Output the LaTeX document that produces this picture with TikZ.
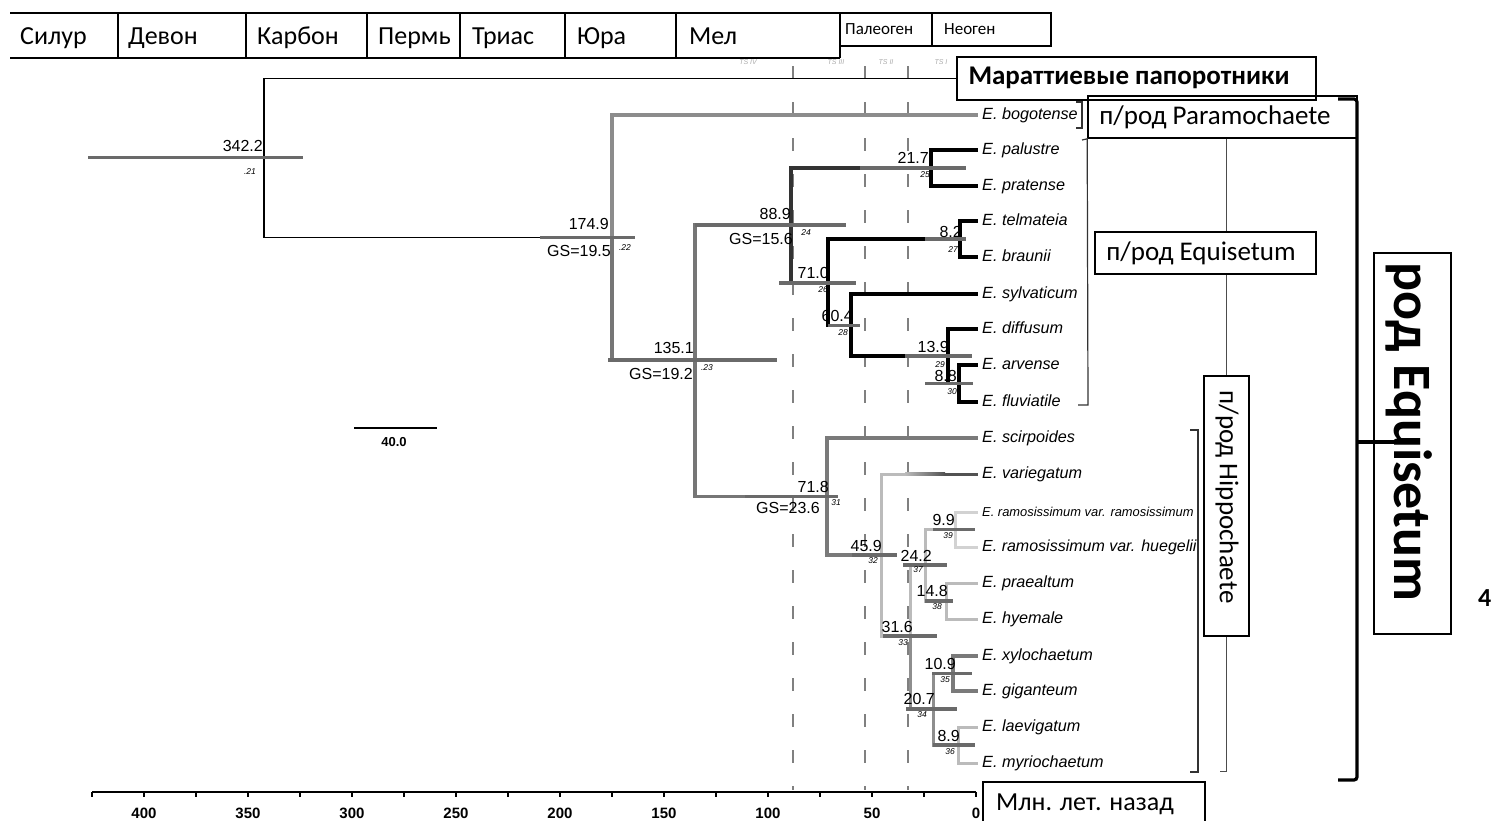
\documentclass[tikz,border=0pt]{standalone}
\usepackage{fontspec}
\setmainfont{Liberation Sans}
\newfontfamily\calfont{Carlito}
\definecolor{barc}{HTML}{6A6A6A}
\definecolor{gbrc}{HTML}{767676}
\definecolor{bogc}{HTML}{8C8C8C}
\definecolor{lgt}{HTML}{BBBBBB}
\definecolor{vlgt}{HTML}{D2D2D2}
\definecolor{midg}{HTML}{8E8E8E}
\definecolor{dkg}{HTML}{7A7A7A}
\definecolor{dashcol}{HTML}{808080}
\definecolor{tsc}{HTML}{AAAAAA}
\begin{document}
\begin{tikzpicture}[x=1pt,y=-1pt,
  every node/.style={inner sep=0pt},
  thinb/.style={line width=1.5pt,draw=black},
  blk/.style={line width=3.2pt,draw=black},
  gry/.style={line width=3.2pt,draw=gbrc},
  hgry/.style={line width=3.2pt,draw=dkg},
  hlgt/.style={line width=3pt,draw=lgt},
  hvlgt/.style={line width=3pt,draw=vlgt},
  hmid/.style={line width=3pt,draw=midg},
  bar/.style={line width=3.4pt,draw=barc},
  dashl/.style={line width=1.4pt,draw=dashcol,dash pattern=on 13pt off 23pt},
  num/.style={font=\fontsize{16}{16}\selectfont, anchor=base east},
  idx/.style={font=\fontsize{8.5}{9}\selectfont\itshape},
  sp/.style={font=\fontsize{16.2}{16}\selectfont\itshape, anchor=west, inner xsep=4pt, text height=11pt, text depth=3pt},
  per/.style={font=\calfont\fontsize{26}{26}\selectfont, anchor=base west},
  sper/.style={font=\calfont\fontsize{17}{17}\selectfont, anchor=base west},
  boxl/.style={draw, line width=1.6pt},
  btxt/.style={font=\calfont\fontsize{27}{27}\selectfont},
  ts/.style={font=\fontsize{7}{7}\selectfont\itshape, text=tsc},
  ax/.style={font=\bfseries\fontsize{15}{15}\selectfont, anchor=base},
  brk/.style={line width=1.2pt, draw=black!80}
]
\useasboundingbox (0,0) rectangle (1491,820);
\clip (0,0) rectangle (1491,820);

% ---------- geological periods ----------
\draw[line width=1.8pt] (10,13) -- (840,13);
\draw[line width=1.8pt] (10,58) -- (840,58);
\foreach \xx in {118,246,367,460,565,676,840} \draw[line width=1.6pt] (\xx,13) -- (\xx,58);
\draw[line width=1.6pt] (840,13) rectangle (1051,46);
\draw[line width=1.6pt] (932,13) -- (932,46);
\node[per] (p1) at (20,44) {Силур};
\node[per] (p2) at (128,44) {Девон};
\node[per] (p3) at (257,44) {Карбон};
\node[per] (p4) at (378,44) {Пермь};
\node[per] (p5) at (472,44) {Триас};
\node[per] (p6) at (577,44) {Юра};
\node[per] (p7) at (689,44) {Мел};
\node[sper] (p8) at (845,34) {Палеоген};
\node[sper] (p9) at (944,34) {Неоген};

% ---------- time-slice dashed lines ----------
\node[ts] (ts4) at (748,62) {TS IV};
\node[ts] (ts3) at (836,62) {TS III};
\node[ts] (ts2) at (886,62) {TS II};
\node[ts] (ts1) at (941,62) {TS I};
\foreach \xx in {793,865,908} \draw[dashl] (\xx,66) -- (\xx,790);

% ---------- tree nodes ----------
\coordinate (nR) at (264,157.5);
\coordinate (nA) at (612,237.5);
\coordinate (nB) at (695,360);
\coordinate (nC) at (791,225);
\coordinate (nD) at (931,168);
\coordinate (nE) at (828,283);
\coordinate (nF) at (960,239);
\coordinate (nG) at (851,325.5);
\coordinate (nH) at (948,356);
\coordinate (nI) at (959,383.5);
\coordinate (nJ) at (827,496.5);
\coordinate (nK) at (881,555);
\coordinate (nL) at (910,636);
\coordinate (nM) at (925,565);
\coordinate (nN) at (955,529.5);
\coordinate (nO) at (946,601);
\coordinate (nP) at (933,709);
\coordinate (nQ) at (953,673.5);
\coordinate (nS) at (958,745);

% ---------- leaves ----------
\node[sp] (bog) at (978,115) {E. bogotense};
\node[sp] (pal) at (978,150) {E. palustre};
\node[sp] (pra) at (978,186) {E. pratense};
\node[sp] (tel) at (978,221) {E. telmateia};
\node[sp] (bra) at (978,257) {E. braunii};
\node[sp] (syl) at (978,294) {E. sylvaticum};
\node[sp] (dif) at (978,329) {E. diffusum};
\node[sp] (arv) at (978,365) {E. arvense};
\node[sp] (flu) at (978,402) {E. fluviatile};
\node[sp] (sci) at (978,438) {E. scirpoides};
\node[sp] (var) at (978,474) {E. variegatum};
\node[sp, font=\fontsize{12.9}{13}\selectfont\itshape] (rr) at (978,512) {E. ramosissimum var. ramosissimum};
\node[sp, font=\fontsize{16}{16}\selectfont\itshape] (rh) at (978,547) {E. ramosissimum var. huegelii};
\node[sp] (pra2) at (978,583) {E. praealtum};
\node[sp] (hye) at (978,619) {E. hyemale};
\node[sp] (xyl) at (978,656) {E. xylochaetum};
\node[sp] (gig) at (978,691) {E. giganteum};
\node[sp] (lae) at (978,727) {E. laevigatum};
\node[sp] (myr) at (978,763) {E. myriochaetum};

% ---------- Marattiales box ----------
\node[boxl, minimum width=359pt, minimum height=43pt] (marbox) at (1136.5,78.5) {};
\node[font=\calfont\bfseries\fontsize{27}{27}\selectfont] (martxt) at (1129,78) {Мараттиевые папоротники};

% ---------- branches ----------
\draw[thinb] (nR) |- (marbox.west);
\draw[thinb] (nR) |- (nA);
\draw[gry] (nA) |- (nB);
\draw[line width=3.2pt, draw=bogc] (nA) |- (bog.west);
\draw[gry] (nB) |- (nC);
\draw[gry] (nB) |- (nJ);
% subgenus Equisetum (black)
\draw[blk, draw=black!80] (nC) |- (nD);
\draw[blk, draw=black!80] (nC) |- (nE);
\draw[blk] (nD) |- (pal.west);
\draw[blk] (nD) |- (pra.west);
\draw[blk] (nE) |- (nF);
\draw[blk] (nE) |- (nG);
\draw[blk] (nF) |- (tel.west);
\draw[blk] (nF) |- (bra.west);
\draw[blk] (nG) |- (syl.west);
\draw[blk] (nG) |- (nH);
\draw[blk] (nH) |- (dif.west);
\draw[blk] (nH) |- (nI);
\draw[blk] (nI) |- (arv.west);
\draw[blk] (nI) |- (flu.west);
% subgenus Hippochaete (greys)
\draw[hgry] (nJ) |- (sci.west);
\draw[hgry] (nJ) |- (nK);
\draw[hlgt] (nK) |- (var.west);
\shade[left color=lgt, right color=black!68] (905,472.5) rectangle (945,475.5);
\draw[line width=3pt, draw=black!68] (945,474) -- (var.west);
\draw[hlgt] (nK) |- (nL);
\draw[hlgt] (nL) |- (nM);
\draw[hmid] (nL) |- (nP);
\draw[hlgt] (nM) |- (nN);
\draw[hlgt] (nM) |- (nO);
\draw[hvlgt] (nN) |- (rr.west);
\draw[hvlgt] (nN) |- (rh.west);
\draw[hlgt] (nO) |- (pra2.west);
\draw[hlgt] (nO) |- (hye.west);
\draw[hmid] (nP) |- (nQ);
\draw[hmid] (nP) |- (nS);
\draw[hgry] (nQ) |- (xyl.west);
\draw[hgry] (nQ) |- (gig.west);
\draw[hlgt] (nS) |- (lae.west);
\draw[hlgt] (nS) |- (myr.west);

% ---------- age bars ----------
\draw[bar] (88,157.5) -- (303,157.5);
\draw[bar] (540,237.5) -- (635,237.5);
\draw[bar] (608,360) -- (777,360);
\draw[bar] (695,225) -- (846,225);
\draw[bar] (860,168) -- (966,168);
\draw[bar] (779,283) -- (856,283);
\draw[bar] (925,239) -- (966,239);
\draw[bar] (828,325.5) -- (860,325.5);
\draw[bar] (905,356) -- (972,356);
\draw[bar] (925,383.5) -- (973,383.5);
\draw[bar] (745,496.5) -- (838,496.5);
\draw[bar] (852,555) -- (897,555);
\draw[bar] (883,636) -- (937,636);
\draw[bar] (903,565) -- (947,565);
\draw[bar] (933,529.5) -- (975,529.5);
\draw[bar] (925,601) -- (953,601);
\draw[bar] (932,673.5) -- (972,673.5);
\draw[bar] (906,709) -- (957,709);
\draw[bar] (933,745) -- (975,745);

% ---------- node ages ----------
\node[num] (a1) at (263,151) {342.2};
\node[num] (a2) at (609,229) {174.9};
\node[num] (g2) at (611,256) {GS=19.5};
\node[num] (a3) at (694,353) {135.1};
\node[num] (g3) at (693,379) {GS=19.2};
\node[num] (a4) at (791,219) {88.9};
\node[num] (g4) at (793,244) {GS=15.6};
\node[num] (a5) at (929,163) {21.7};
\node[num] (a6) at (829,278) {71.0};
\node[num] (a7) at (962,237) {8.2};
\node[num] (a8) at (853,321) {60.4};
\node[num] (a9) at (949,352) {13.9};
\node[num] (a10) at (957,381) {8.8};
\node[num] (a11) at (829,492) {71.8};
\node[num] (g11) at (820,513) {GS=23.6};
\node[num] (a12) at (882,551) {45.9};
\node[num] (a13) at (913,632) {31.6};
\node[num] (a14) at (932,561) {24.2};
\node[num] (a15) at (955,525) {9.9};
\node[num] (a16) at (948,596) {14.8};
\node[num] (a17) at (956,669) {10.9};
\node[num] (a18) at (935,704) {20.7};
\node[num] (a19) at (960,741) {8.9};

% ---------- node indices ----------
\node[idx] (i21) at (250,172) {.21};
\node[idx] (i22) at (625,248) {.22};
\node[idx] (i23) at (707,368) {.23};
\node[idx] (i24) at (806,233) {24};
\node[idx] (i25) at (925,175) {25};
\node[idx] (i26) at (823,290) {26};
\node[idx] (i27) at (953,250) {27};
\node[idx] (i28) at (843,333) {28};
\node[idx] (i29) at (940,365) {29};
\node[idx] (i30) at (952,392) {30};
\node[idx] (i31) at (836,503) {31};
\node[idx] (i32) at (873,561) {32};
\node[idx] (i33) at (903,643) {33};
\node[idx] (i34) at (922,715) {34};
\node[idx] (i35) at (945,680) {35};
\node[idx] (i36) at (950,752) {36};
\node[idx] (i37) at (918,570) {37};
\node[idx] (i38) at (937,607) {38};
\node[idx] (i39) at (948,536) {39};

% ---------- scale bar ----------
\draw[thinb] (354,428) -- (437,428);
\node[font=\bfseries\fontsize{13}{13}\selectfont] (sc) at (394,442) {40.0};

% ---------- time axis ----------
\draw[thinb] (92,792) -- (976,792);
\foreach \t in {0,25,...,425} \draw[line width=1.2pt] ({976-2.08*\t},792) -- ({976-2.08*\t},797);
\foreach \t in {0,50,...,400} \node[ax] at ({976-2.08*\t},818) {\t};

% ---------- right side: boxes and brackets ----------
\draw[brk] (1076,102) -- (1082,102) -- (1082,128) -- (1076,128);
\node[boxl, minimum width=269pt, minimum height=42pt] (parbox) at (1222.5,117) {};
\node[btxt] (partxt) at (1215,117) {п/род Paramochaete};
\node[boxl, minimum width=221pt, minimum height=42pt] (eqbox) at (1205.5,253) {};
\node[btxt] (eqtxt) at (1201,253) {п/род Equisetum};
\node[boxl, rotate=-90, minimum width=260pt, minimum height=45pt] (hipbox) at (1226.5,506) {};
\node[btxt, rotate=-90] (hiptxt) at (1227,497) {п/род Hippochaete};
\draw[brk] (1082,140) -- (parbox.south west) -- (1088,405) -- (1078,405);
\draw[line width=1.1pt, draw=black!70] (hipbox.west |- parbox.south) -- (hipbox.west |- eqbox.north);
\draw[line width=1.1pt, draw=black!70] (hipbox.west |- eqbox.south) -- (hipbox.west);
\draw[line width=1.1pt, draw=black!70] (hipbox.east) -- ++(0,135) -- ++(-7,0);
\draw[brk] (1190,430) -- (1198,430) -- (1198,772) -- (1190,772);

\node[draw, line width=2pt, rotate=-90, minimum width=381pt, minimum height=77pt] (genbox) at (1412.5,443.5) {};
\node[font=\calfont\bfseries\fontsize{54}{54}\selectfont, rotate=-90] (gentxt) at (1409,432) {род Equisetum};
\draw[line width=3.2pt, rounded corners=3pt] (1338,99) -- (1357,99) -- (1357,780) -- (1338,780);
\draw[line width=3.2pt] (1357,442) -- (genbox.west |- 0,442);

\node[font=\calfont\bfseries\fontsize{26}{26}\selectfont, anchor=west] (four) at (1478,598) {4};

\node[boxl, minimum width=222pt, minimum height=48pt] (mlnbox) at (1094,806) {};
\node[font=\calfont\fontsize{26}{26}\selectfont] (mlntxt) at (1085,804) {Млн. лет. назад};
\end{tikzpicture}
\end{document}
